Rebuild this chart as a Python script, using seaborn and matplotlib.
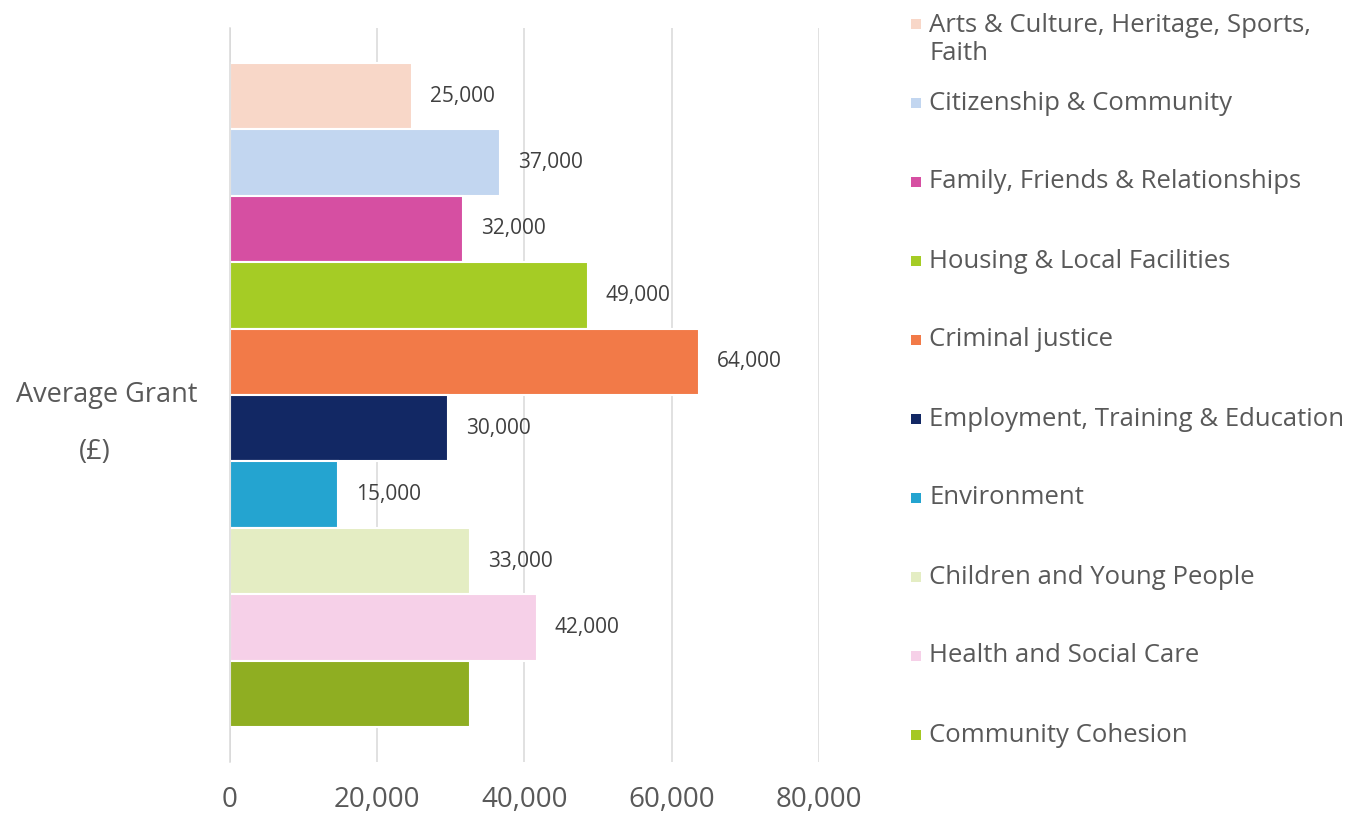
import pandas as pd
import matplotlib.pyplot as plt
import seaborn as sns
from matplotlib.patches import Rectangle

# Data
group = "Average Grant\n(£)"
themes = [
    "Arts & Culture, Heritage, Sports,\nFaith",
    "Citizenship & Community",
    "Family, Friends & Relationships",
    "Housing & Local Facilities",
    "Criminal justice",
    "Employment, Training & Education",
    "Environment",
    "Children and Young People",
    "Health and Social Care",
    "Community Cohesion",
]
grants = [24700, 36700, 31700, 48600, 63700, 29700, 14700, 32700, 41700, 32700]
value_labels = ["25,000", "37,000", "32,000", "49,000", "64,000",
                "30,000", "15,000", "33,000", "42,000", ""]
x_ticks = [0, 20000, 40000, 60000, 80000]
x_ticklabels = ["0", "20,000", "40,000", "60,000", "80,000"]

bar_colors = ["#F8D7C8", "#C2D6F0", "#D64FA2", "#A5CC25", "#F27A48",
              "#122864", "#24A4D0", "#E4EDC3", "#F6D0E8", "#8FAE22"]
legend_colors = bar_colors[:-1] + ["#A5C822"]

GRID = "#D9D9D9"
TEXT = "#595959"

sns.set_style("white")
plt.rcParams['font.family'] = ['Open Sans', 'DejaVu Sans']

df = pd.DataFrame({"group": [group] * len(themes), "theme": themes, "grant": grants})

fig = plt.figure(figsize=(13.6, 8.14), dpi=100)
ax = fig.add_axes([229.5 / 1360, 52 / 814, 589.5 / 1360, 734 / 814])

sns.barplot(data=df, x="grant", y="group", hue="theme", hue_order=themes,
            palette=bar_colors, saturation=1, width=0.905, orient="h", legend=False,
            edgecolor="white", linewidth=1.5, ax=ax)

for container, lab in zip(ax.containers, value_labels):
    ax.bar_label(container, labels=[lab], padding=13, fontsize=15, color="#404040")

ax.set_xlim(0, 80000)
ax.set_ylim(0.5, -0.5)
ax.set_xticks(x_ticks)
ax.set_xticklabels(x_ticklabels)
ax.tick_params(axis="x", length=0, pad=17, labelsize=20, labelcolor=TEXT)
ax.set_yticks([-0.5, 0.5])
ax.set_yticklabels(["", ""])
ax.tick_params(axis="y", length=6.5, width=1.1, color=GRID, direction="out")
ax.set_xlabel("")
ax.set_ylabel("")

ax.grid(axis="x", color=GRID, linewidth=1.1)
ax.set_axisbelow(True)
for side in ["top", "right", "bottom"]:
    ax.spines[side].set_visible(False)
ax.spines["left"].set_color(GRID)
ax.spines["left"].set_linewidth(1.1)

# category label, two lines as in the reference
W, H = 1360, 814
line1, line2 = group.split("\n")
fig.text(107 / W, 1 - 395 / H, line1, ha="center", va="center", fontsize=19.5, color=TEXT)
fig.text(95 / W, 1 - 452 / H, line2, ha="center", va="center", fontsize=19.5, color=TEXT)

# legend drawn in figure pixels so it matches the evenly spaced entries
for i, (name, col) in enumerate(zip(themes, legend_colors)):
    yc = 24 + 79 * i
    fig.add_artist(Rectangle((911 / W, 1 - (yc + 5) / H), 10 / W, 10 / H,
                             transform=fig.transFigure, facecolor=col, edgecolor="none"))
    n = name.count("\n") + 1
    fig.text(929 / W, 1 - (yc + (n - 1) * 15.5) / H, name, ha="left", va="center",
             fontsize=18.5, color=TEXT, linespacing=1.2)

fig.savefig("out.png", dpi=100)
